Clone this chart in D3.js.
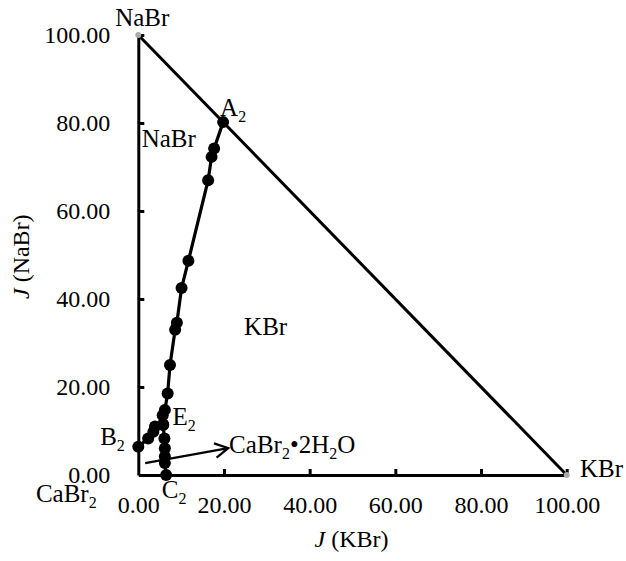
<!DOCTYPE html>
<html>
<head>
<meta charset="utf-8">
<script src="https://cdn.jsdelivr.net/npm/d3@7"></script>
<style>
  body { margin: 0; background: #fff; }
  svg text { font-family: "Liberation Serif", "Times New Roman", Times, serif; fill: #000; }
  .axis path, .axis line { stroke: #000; stroke-width: 3px; }
  .axis text { font-size: 24px; }
</style>
</head>
<body>
<svg id="chart" width="626" height="561"></svg>
<script>
// J(KBr), J(NaBr) for each branch of the phase diagram
const curveAE = [
  [19.8, 80.2], [17.7, 74.2], [17.1, 72.3], [16.3, 67.0], [11.7, 48.7],
  [10.1, 42.5], [9.0, 34.6], [8.6, 33.0], [7.4, 25.0], [6.85, 18.5],
  [6.2, 14.8], [5.7, 13.6], [5.8, 11.4]
];
const curveBE = [[0, 6.4], [2.3, 8.3], [3.5, 9.8], [3.9, 11.0], [5.8, 11.4]];
const curveCE = [[6.5, 0], [6.2, 2.7], [6.2, 4.2], [6.2, 6.1], [6.1, 8.3], [5.8, 11.4]];
const vertices = [[0, 100], [100, 0]];
const arrowLine = [[1.6, 2.7], [21.0, 6.1]];
const xTicks = [0, 20, 40, 60, 80, 100];
const yTicks = [0, 20, 40, 60, 80, 100];

// text, J(KBr), J(NaBr) ; "_2" marks a subscript
const labels = [
  ['NaBr', -5.4, 102.0],
  ['A_2', 19.1, 81.6],
  ['NaBr', 0.8, 74.5],
  ['KBr', 24.7, 31.8],
  ['CaBr_2•2H_2O', 21.2, 4.9],
  ['B_2', -8.9, 6.8],
  ['E_2', 8.0, 11.4],
  ['C_2', 5.5, -5.2],
  ['CaBr_2', -23.9, -6.2],
  ['KBr', 103.1, -0.5]
];

const margin = { top: 35, right: 59.3, bottom: 86, left: 138.3 };
const width = 626 - margin.left - margin.right;
const height = 561 - margin.top - margin.bottom;
const serif = '"Liberation Serif", "Times New Roman", Times, serif';

let svg = d3.select('#chart').append('g')
  .attr('transform', 'translate(' + margin.left + ',' + margin.top + ')');

let x = d3.scaleLinear().domain([0, 100]).range([0, width]);
let y = d3.scaleLinear().domain([0, 100]).range([height, 0]);

let x_axis = d3.axisBottom(x)
  .tickValues(xTicks)
  .tickSizeInner(-6)
  .tickSizeOuter(0)
  .tickFormat(d3.format('.2f'));

svg.append('g')
  .attr('class', 'x axis')
  .attr('transform', 'translate(0,' + height + ')')
  .call(x_axis)
  .attr('font-family', serif)
  .selectAll('text')
  .attr('y', 38)
  .attr('dy', 0);

let y_axis = d3.axisLeft(y)
  .tickValues(yTicks)
  .tickSizeInner(-6)
  .tickSizeOuter(0)
  .tickPadding(28)
  .tickFormat(d3.format('.2f'));

svg.append('g')
  .attr('class', 'y axis')
  .call(y_axis)
  .attr('font-family', serif)
  .selectAll('text')
  .attr('dy', '0.3em');

// no tick marks in the corner
svg.selectAll('.tick').filter(function(d) { return d === 0; }).select('line').remove();

svg.append('text')
  .attr('x', 351.5 - margin.left)
  .attr('y', 546.7 - margin.top)
  .attr('text-anchor', 'middle')
  .style('font-size', '24px')
  .html('<tspan font-style="italic">J</tspan> (KBr)');

svg.append('text')
  .attr('transform', 'translate(' + (29 - margin.left) + ',' + (256.7 - margin.top) + ') rotate(-90)')
  .attr('text-anchor', 'middle')
  .style('font-size', '24px')
  .html('<tspan font-style="italic">J</tspan> (NaBr)');

let line = d3.line()
  .x(function(d) { return x(d[0]); })
  .y(function(d) { return y(d[1]); });

svg.append('path')
  .datum(vertices)
  .attr('d', line)
  .attr('fill', 'none')
  .attr('stroke', '#000')
  .attr('stroke-width', 3);

svg.selectAll('.vertex')
  .data(vertices)
  .enter().append('circle')
  .attr('class', 'vertex')
  .attr('cx', function(d) { return x(d[0]); })
  .attr('cy', function(d) { return y(d[1]); })
  .attr('r', 3)
  .attr('fill', '#aaa');

[curveAE, curveBE, curveCE].forEach(function(curve) {
  svg.append('path')
    .datum(curve)
    .attr('d', line)
    .attr('fill', 'none')
    .attr('stroke', '#000')
    .attr('stroke-width', 3.2);

  svg.selectAll(null)
    .data(curve)
    .enter().append('circle')
    .attr('cx', function(d) { return x(d[0]); })
    .attr('cy', function(d) { return y(d[1]); })
    .attr('r', 6)
    .attr('fill', '#000');
});

// arrow to CaBr2·2H2O
let a0 = arrowLine[0], a1 = arrowLine[1];
let ang = Math.atan2(y(a1[1]) - y(a0[1]), x(a1[0]) - x(a0[0]));
let tipX = x(a1[0]), tipY = y(a1[1]);
let head = [ang - 0.5, ang + 0.5].map(function(t) {
  return [tipX - 15 * Math.cos(t), tipY - 15 * Math.sin(t)];
});
svg.append('path')
  .attr('d', 'M' + x(a0[0]) + ',' + y(a0[1]) + 'L' + tipX + ',' + tipY +
    'M' + head[0][0] + ',' + head[0][1] + 'L' + tipX + ',' + tipY + 'L' + head[1][0] + ',' + head[1][1])
  .attr('fill', 'none')
  .attr('stroke', '#000')
  .attr('stroke-width', 2.2);

labels.forEach(function(l) {
  let t = svg.append('text')
    .attr('x', x(l[1]))
    .attr('y', y(l[2]))
    .attr('font-family', serif)
    .style('font-size', '25px');
  let shift = 0;
  l[0].split(/(_\d)/).forEach(function(part) {
    if (!part) return;
    if (part[0] === '_') {
      t.append('tspan').attr('font-size', '16px').attr('dy', 6 - shift).text(part.slice(1));
      shift = 6;
    } else {
      t.append('tspan').attr('dy', -shift).text(part);
      shift = 0;
    }
  });
});
</script>
</body>
</html>
